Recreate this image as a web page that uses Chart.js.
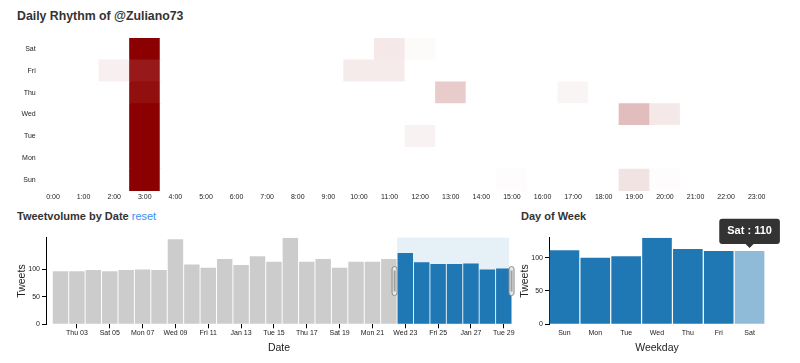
<!DOCTYPE html>
<html><head><meta charset="utf-8">
<script src="https://cdn.jsdelivr.net/npm/chart.js@4.4.1/dist/chart.umd.min.js"></script>
<style>
html,body{margin:0;padding:0;background:#fff;}
body{width:800px;height:363px;position:relative;overflow:hidden;font-family:'Liberation Sans',Arial,sans-serif;}
.t{position:absolute;font-weight:bold;font-size:11px;line-height:13px;color:#333;white-space:nowrap;}
.t a{color:#3a8ef6;font-weight:normal;text-decoration:none;}
canvas{position:absolute;}
</style></head><body>
<div class="t" style="left:17px;top:9px;font-size:12.3px;line-height:14px">Daily Rhythm of @Zuliano73</div>
<div class="t" style="left:17px;top:210px">Tweetvolume by Date <a>reset</a></div>
<div class="t" style="left:521px;top:210px">Day of Week</div>
<canvas id="heat" width="800" height="178" style="left:0;top:30px"></canvas>
<canvas id="dates" width="520" height="138" style="left:0;top:225px"></canvas>
<canvas id="week" width="300" height="158" style="left:500px;top:205px"></canvas>
<script>
const FONT = "'Liberation Sans', Arial, sans-serif";
Chart.defaults.font.family = FONT;
Chart.defaults.color = '#222';
Chart.defaults.animation = false;

// ---------- data ----------
const hours = ['0:00','1:00','2:00','3:00','4:00','5:00','6:00','7:00','8:00','9:00','10:00','11:00',
               '12:00','13:00','14:00','15:00','16:00','17:00','18:00','19:00','20:00','21:00','22:00','23:00'];
const weekdays = ['Sun','Mon','Tue','Wed','Thu','Fri','Sat'];
//                 0 1 2  3   4 5 6 7 8 9 10 11 12 13 14 15 16 17 18 19 20 21 22 23
const sunByHour = [0,0,0,100,0,0,0,0,0,0, 0, 0, 0, 0, 0, 1, 0, 0, 0,11, 1, 0, 0, 0];
const monByHour = [0,0,0,100,0,0,0,0,0,0, 0, 0, 0, 0, 0, 0, 0, 0, 0, 0, 0, 0, 0, 0];
const tueByHour = [0,0,0,100,0,0,0,0,0,0, 0, 0, 5, 0, 0, 0, 0, 0, 0, 0, 0, 0, 0, 0];
const wedByHour = [0,0,0,100,0,0,0,0,0,0, 0, 0, 0, 0, 0, 0, 0, 0, 0,26, 9, 0, 0, 0];
const thuByHour = [0,0,0, 94,0,0,0,0,0,0, 0, 0, 0,20, 0, 0, 0, 4, 0, 0, 0, 0, 0, 0];
const friByHour = [0,0,6, 90,0,0,0,0,0,0, 8, 8, 0, 0, 0, 0, 0, 0, 0, 0, 0, 0, 0, 0];
const satByHour = [0,0,0,100,0,0,0,0,0,0, 0, 9, 2, 0, 0, 0, 0, 0, 0, 0, 0, 0, 0, 0];

const dateDays = [2,3,4,5,6,7,8,9,10,11,12,13,14,15,16,17,18,19,20,21,22,23,24,25,26,27,28,29];
const tweetsByDate = [97,97,99,97,99,100,99,155,109,103,119,108,124,114,158,114,119,103,114,114,119,130,113,110,110,111,100,102];
const dateTickDays = [3,5,7,9,11,13,15,17,19,21,23,25,27,29];
const dateTickLabels = ['Thu 03','Sat 05','Mon 07','Wed 09','Fri 11','Jan 13','Tue 15','Thu 17','Sat 19','Mon 21','Wed 23','Fri 25','Jan 27','Tue 29'];
const brushRange = [22.5, 29.32];

const tweetsByWeekday = [111,100,102,130,113,110,110];
const hoverDay = 'Sat';

// ---------- heatmap ----------
const heatRows = [sunByHour, monByHour, tueByHour, wedByHour, thuByHour, friByHour, satByHour];
const heatMax = Math.max(...heatRows.flat());
function heatColor(v){
  const t = Math.min(1, v/heatMax);
  const r = Math.round(255 + (139-255)*t), g = Math.round(255*(1-t));
  return `rgb(${r},${g},${g})`;
}
new Chart(document.getElementById('heat'), {
  type:'bar',
  data:{ labels: hours,
    datasets: weekdays.map((d,i)=>({
      label:d, data: hours.map(()=>1),
      backgroundColor: heatRows[i].map(heatColor),
      borderWidth:0, barPercentage:1, categoryPercentage:1
    }))
  },
  options:{ responsive:false, events:[],
    layout:{padding:{top:8,right:28,left:0,bottom:0}},
    plugins:{legend:{display:false}, tooltip:{enabled:false}},
    scales:{
      x:{stacked:true, grid:{display:false, drawTicks:false}, border:{display:false},
         ticks:{font:{size:7}, padding:1.5, autoSkip:false, maxRotation:0},
         afterFit:s=>{s.height=17;}},
      y:{stacked:true, min:0, max:weekdays.length, grid:{display:false, drawTicks:false}, border:{display:false},
         ticks:{font:{size:7}, padding:2, callback:(v,i)=>weekdays[i]},
         afterBuildTicks:s=>{s.ticks=weekdays.map((d,i)=>({value:i+0.5}));},
         afterFit:s=>{s.width=37.7;}}
    }
  }
});

// ---------- tweet volume by date ----------
const brushPlugin = {
  id:'brush',
  beforeDatasetsDraw(chart){
    const {ctx, chartArea:{top,bottom}, scales:{x}} = chart;
    const x0 = x.getPixelForValue(brushRange[0]), x1 = x.getPixelForValue(brushRange[1]);
    ctx.save(); ctx.fillStyle='rgba(31,119,180,0.11)'; ctx.fillRect(x0, top, x1-x0, bottom-top); ctx.restore();
  },
  afterDatasetsDraw(chart){
    const {ctx, chartArea:{top,bottom}, scales:{x}} = chart;
    const x0 = x.getPixelForValue(brushRange[0]), x1 = x.getPixelForValue(brushRange[1]);
    const mid=(top+bottom)/2, h=29;
    ctx.save();
    [x0-5, x1].forEach(a=>{
      ctx.beginPath(); ctx.roundRect(a, mid-h/2, 5, h, 2.5);
      ctx.fillStyle='#e8e8e8'; ctx.fill(); ctx.strokeStyle='#8a8a8a'; ctx.lineWidth=1; ctx.stroke();
      ctx.fillStyle='#a0a0a0'; ctx.fillRect(a+1.5, mid-h/2+4, 2, h-8);
    });
    ctx.restore();
  }
};
const dateColors = dateDays.map(d => (d>brushRange[0] && d<brushRange[1]) ? '#1f77b4' : '#cccccc');
new Chart(document.getElementById('dates'), {
  type:'bar',
  data:{ datasets:[{ data: dateDays.map((d,i)=>({x:d, y:tweetsByDate[i]})),
    backgroundColor: dateColors, barPercentage:0.94, categoryPercentage:1 }]},
  options:{ responsive:false, events:[],
    layout:{padding:{top:12.7,right:8,left:0,bottom:0}},
    plugins:{legend:{display:false}, tooltip:{enabled:false}},
    scales:{
      x:{type:'linear', offset:false, min:1.116, max:29.5,
         grid:{display:true, offset:false, drawOnChartArea:false, drawTicks:true, tickLength:4, tickColor:'#000'},
         border:{display:false},
         ticks:{font:{size:7}, padding:1, autoSkip:false, maxRotation:0,
                callback:v=>dateTickLabels[dateTickDays.indexOf(v)]},
         afterBuildTicks:s=>{s.ticks=dateTickDays.map(v=>({value:v}));},
         title:{display:true, text:'Date', font:{size:10.5}, padding:{top:0,bottom:8.7}, color:'#222'},
         afterFit:s=>{s.height=38.7;}},
      y:{min:0, max:Math.max(...tweetsByDate),
         ticks:{stepSize:50, font:{size:7}, padding:2},
         afterBuildTicks:s=>{s.ticks=s.ticks.filter(t=>t.value%50===0);},
         grid:{drawOnChartArea:false, tickLength:4, tickColor:'#000'},
         border:{display:true, color:'#000'},
         title:{display:true, text:'Tweets', font:{size:10.5}, padding:{top:15.7,bottom:0}, color:'#222'},
         afterFit:s=>{s.width=46;}}
    }
  },
  plugins:[brushPlugin]
});

// ---------- day of week ----------
const hi = weekdays.indexOf(hoverDay);
const weekColors = weekdays.map((d,i)=> i===hi ? 'rgba(31,119,180,0.5)' : '#1f77b4');
const weekChart = new Chart(document.getElementById('week'), {
  type:'bar',
  data:{ labels: weekdays, datasets:[{ data: tweetsByWeekday, backgroundColor: weekColors,
    hoverBackgroundColor: weekColors, barPercentage:0.96, categoryPercentage:1 }]},
  options:{ responsive:false, events:[],
    layout:{padding:{top:32.7,right:35,left:0,bottom:0}},
    plugins:{legend:{display:false},
      tooltip:{enabled:true, xAlign:'center', yAlign:'bottom', backgroundColor:'#333', displayColors:false,
        caretSize:4, caretPadding:3, cornerRadius:3, padding:{top:6,bottom:6,left:8,right:8},
        bodyFont:{size:11, weight:'bold'}, bodyColor:'#fff',
        callbacks:{title:()=>[], label:c=>`${c.label} : ${c.parsed.y}`}}},
    scales:{
      x:{grid:{display:false, drawTicks:false}, border:{display:false},
         ticks:{font:{size:7}, padding:4.5},
         title:{display:true, text:'Weekday', font:{size:10.5}, padding:{top:0,bottom:8.7}, color:'#222'},
         afterFit:s=>{s.height=38.7;}},
      y:{min:0, max:Math.max(...tweetsByWeekday),
         ticks:{stepSize:50, font:{size:7}, padding:2},
         afterBuildTicks:s=>{s.ticks=s.ticks.filter(t=>t.value%50===0);},
         grid:{drawOnChartArea:false, tickLength:4, tickColor:'#000'},
         border:{display:true, color:'#000'},
         title:{display:true, text:'Tweets', font:{size:10.5}, padding:{top:18.7,bottom:0}, color:'#222'},
         afterFit:s=>{s.width=49;}}
    }
  }
});
weekChart.tooltip.setActiveElements([{datasetIndex:0,index:hi}], {x:0,y:0});
weekChart.setActiveElements([{datasetIndex:0,index:hi}]);
weekChart.update();
</script>
</body></html>
